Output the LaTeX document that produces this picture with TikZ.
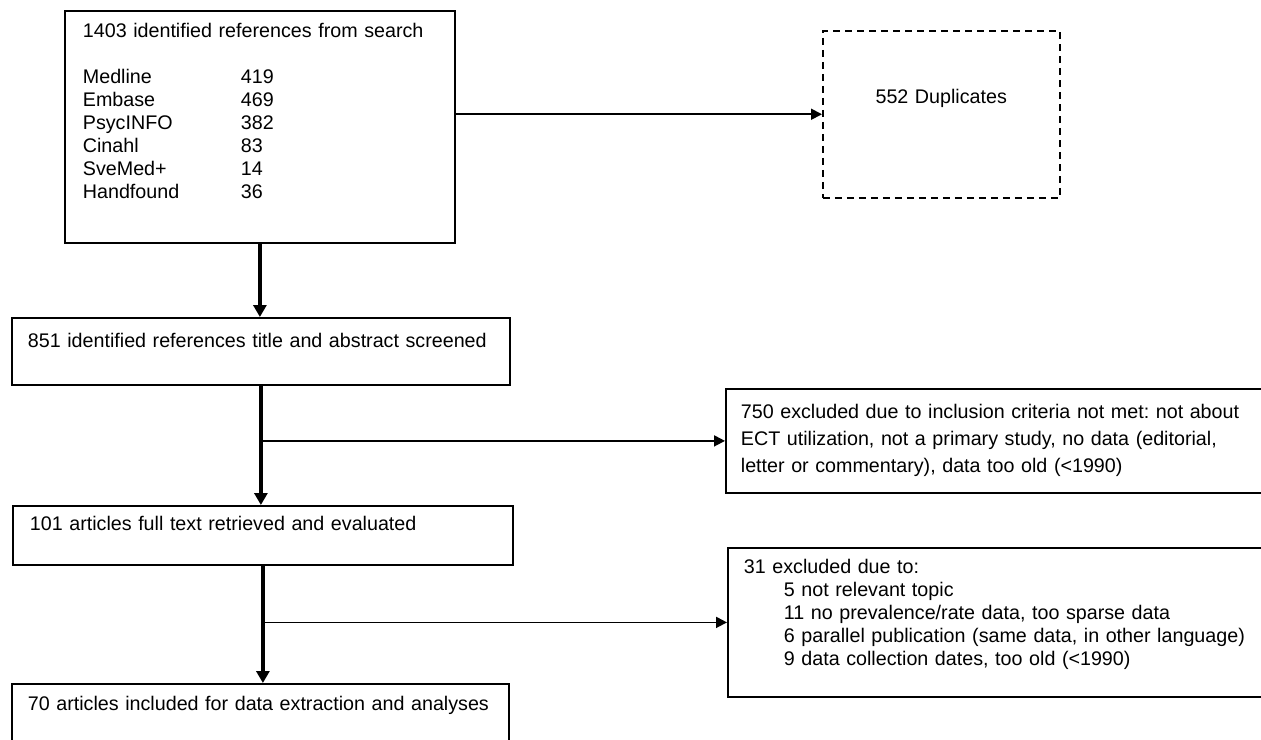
\documentclass[tikz,border=0pt]{standalone}
\usepackage{fontspec}
\setmainfont{Liberation Sans}
\usetikzlibrary{arrows.meta, positioning, calc}

\begin{document}
\begin{tikzpicture}[
    x=1pt, y=-1pt,
    every node/.style={font=\fontsize{19.7}{23}\selectfont\frenchspacing, align=left},
    stage/.style={rectangle, draw=black, line width=1.8pt, anchor=north west, inner ysep=0pt},
    dupbox/.style={rectangle, draw=black, line width=1.5pt, dash pattern=on 7pt off 5pt, anchor=north west, inner sep=0pt, align=center},
    flow/.style={-{Triangle[length=12pt, width=13pt]}, line width=4pt},
    side/.style={-{Triangle[length=11pt, width=11pt]}, line width=1.8pt}
  ]
    \fill[white] (0,0) rectangle (1261,739);
    \useasboundingbox (0,0) rectangle (1261,739);

    % Search
    \node[stage, inner xsep=18pt, text width=354pt, text height=27pt, text depth=205pt] (search) at (64,10)
      {1403 identified references from search\\[23pt]
       \makebox[158pt][l]{Medline}419\\
       \makebox[158pt][l]{Embase}469\\
       \makebox[158pt][l]{PsycINFO}382\\
       \makebox[158pt][l]{Cinahl}83\\
       \makebox[158pt][l]{SveMed+}14\\
       \makebox[158pt][l]{Handfound}36};
    \node[dupbox, text width=237pt, text height=73pt, text depth=94pt] (dup) at (822,30) {552 Duplicates};

    % Screening
    \node[stage, inner xsep=16pt, text width=466pt, text height=30pt, text depth=37pt] (screen) at (11,317)
      {\mbox{851 identified references title and abstract screened}};
    \node[stage, inner xsep=15pt, text width=525pt, text height=30pt, text depth=74pt,
          font=\fontsize{19.7}{27}\selectfont\frenchspacing] (excl1) at (725,388)
      {750 excluded due to inclusion criteria not met: not about\\
       ECT utilization, not a primary study, no data (editorial,\\
       letter or commentary), data too old (<1990)};

    % Full text
    \node[stage, inner xsep=17pt, text width=466pt, text height=25pt, text depth=34pt] (fulltext) at (12,505)
      {\mbox{101 articles full text retrieved and evaluated}};
    \node[stage, inner xsep=16pt, text width=521pt, text height=26pt, text depth=123pt] (excl2) at (727,547)
      {31 excluded due to:\\
       \hspace*{40pt}5 not relevant topic\\
       \hspace*{40pt}11 no prevalence/rate data, too sparse data\\
       \hspace*{40pt}6 parallel publication (same data, in other language)\\
       \hspace*{40pt}9 data collection dates, too old (<1990)};

    % Included
    \node[stage, inner xsep=16pt, text width=465pt, text height=27pt, text depth=60pt] (included) at (11,683)
      {\mbox{70 articles included for data extraction and analyses}};

    % Connections
    \coordinate (split1) at (screen.south |- excl1.west);
    \coordinate (split2) at (fulltext.south |- excl2.west);
    \draw[flow] (search.south) -- (search.south |- screen.north);
    \draw[flow] (screen.south) -- (screen.south |- fulltext.north);
    \draw[flow] (fulltext.south) -- (fulltext.south |- included.north);
    \draw[side] (search.east |- dup.west) -- (dup.west);
    \draw[side] (split1) -- (excl1.west);
    \draw[side] (split2) -- (excl2.west);
  \end{tikzpicture}
\end{document}
